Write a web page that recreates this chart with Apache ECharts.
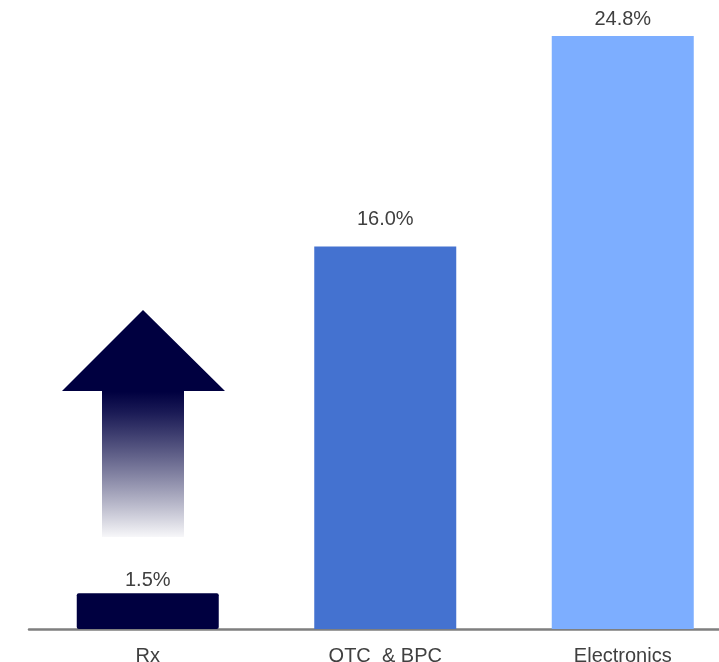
<!DOCTYPE html>
<html>
<head>
<meta charset="utf-8">
<style>
  html, body { margin: 0; padding: 0; background: #ffffff; }
  #chart { width: 719px; height: 662px; }
</style>
<script src="https://cdn.jsdelivr.net/npm/echarts@6/dist/echarts.min.js"></script>
</head>
<body>
<div id="chart"></div>
<script>
const categories = ['Rx', 'OTC  & BPC', 'Electronics'];
const values = [1.5, 16.0, 24.8];
const barColors = ['#000040', '#4472D0', '#7DAEFF'];
const labelGaps = [3, 17, 6.5];

const chart = echarts.init(document.getElementById('chart'), null, { renderer: 'canvas' });

const FONT = 'Liberation Sans, Arial, sans-serif';

const option = {
  backgroundColor: '#ffffff',
  animation: false,
  grid: { left: 29, top: 36, width: 712.5, height: 593, containLabel: false, outerBoundsMode: 'none' },
  xAxis: {
    type: 'category',
    data: categories,
    axisLine: { show: true, lineStyle: { color: '#7f7f7f', width: 2.5 } },
    axisTick: { show: false },
    axisLabel: {
      color: '#404040', fontSize: 20, fontFamily: FONT,
      margin: 17, interval: 0
    }
  },
  yAxis: {
    type: 'value', min: 0, max: 24.8,
    show: false, splitLine: { show: false }
  },
  series: [{
    type: 'bar',
    barWidth: 142,
    data: values.map((v, i) => ({
      value: v,
      itemStyle: { color: barColors[i], borderRadius: i === 0 ? 2 : 0 },
      label: { distance: labelGaps[i] }
    })),
    label: {
      show: true, position: 'top',
      color: '#404040', fontSize: 20, fontFamily: FONT,
      formatter: p => p.value.toFixed(1) + '%'
    },
    z: 1
  }],
  graphic: [{
    type: 'polygon',
    shape: {
      points: [[143, 310], [225, 391], [184, 391], [184, 537], [102, 537], [102, 391], [62, 391]]
    },
    style: {
      fill: {
        type: 'linear', x: 0, y: 0, x2: 0, y2: 1, global: false,
        colorStops: [
          { offset: 0, color: '#000040' },
          { offset: 0.36, color: '#000040' },
          { offset: 0.45, color: '#1a1a55' },
          { offset: 1, color: 'rgba(0,0,64,0.03)' }
        ]
      }
    }
  }]
};
chart.setOption(option);
</script>
</body>
</html>
